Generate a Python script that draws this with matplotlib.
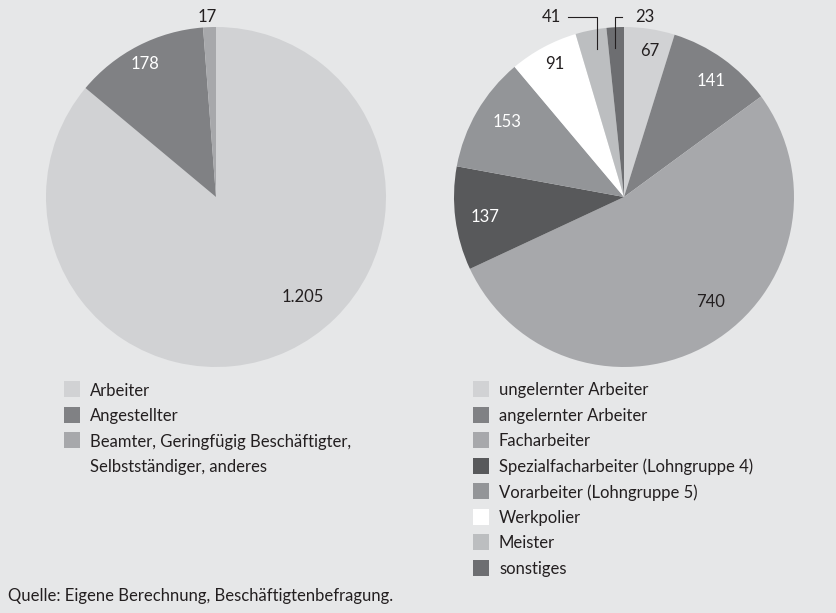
import matplotlib.pyplot as plt
from matplotlib.patches import Rectangle

# data: left pie (Beschaeftigtenstatus)
status_labels = ["Arbeiter", "Angestellter",
                 "Beamter, Geringfügig Beschäftigter,\nSelbstständiger, anderes"]
status_values = [1205, 178, 17]
status_texts = ["1.205", "178", "17"]
status_colors = ["#d1d2d4", "#808184", "#a7a8ab"]

# data: right pie (Qualifikation)
quali_labels = ["ungelernter Arbeiter", "angelernter Arbeiter", "Facharbeiter",
                "Spezialfacharbeiter (Lohngruppe 4)", "Vorarbeiter (Lohngruppe 5)",
                "Werkpolier", "Meister", "sonstiges"]
quali_values = [67, 141, 740, 137, 153, 91, 41, 23]
quali_texts = ["67", "141", "740", "137", "153", "91", "41", "23"]
quali_colors = ["#d1d2d4", "#808184", "#a7a8ab", "#58595b",
                "#939598", "#ffffff", "#bcbec0", "#6d6e71"]

BG = "#e6e7e8"
DARK = "#231f20"

plt.rcParams['font.family'] = ['Lato', 'DejaVu Sans']
FS = 12

fig = plt.figure(figsize=(8.36, 6.13), dpi=100, facecolor=BG)
W, H = 836, 613


def pie_axes(cx, cy, r=170):
    ax = fig.add_axes([(cx - r) / W, (H - cy - r) / H, 2 * r / W, 2 * r / H])
    return ax


def finish(ax):
    ax.set_xlim(-1, 1)
    ax.set_ylim(-1, 1)
    ax.set_aspect("equal")
    ax.axis("off")


# left pie
ax1 = pie_axes(216, 197)
ax1.pie(status_values, colors=status_colors, startangle=90, counterclock=False,
        radius=1, wedgeprops=dict(linewidth=0))
finish(ax1)
left_pos = [(0.51, -0.59), (-0.42, 0.78), (-0.05, 1.06)]
left_col = [DARK, "white", DARK]
for t, (x, y), c in zip(status_texts, left_pos, left_col):
    ax1.text(x, y, t, ha="center", va="center", fontsize=FS, color=c)

# right pie
ax2 = pie_axes(624, 197)
ax2.pie(quali_values, colors=quali_colors, startangle=90, counterclock=False,
        radius=1, wedgeprops=dict(linewidth=0))
finish(ax2)
right_pos = [(0.15, 0.86), (0.51, 0.68), (0.51, -0.62), (-0.82, -0.12),
             (-0.69, 0.44), (-0.41, 0.78), (-0.43, 1.06), (0.12, 1.06)]
right_col = [DARK, "white", DARK, "white", "white", DARK, DARK, DARK]
for t, (x, y), c in zip(quali_texts, right_pos, right_col):
    ax2.text(x, y, t, ha="center", va="center", fontsize=FS, color=c)
# leader lines for the small slices
ax2.plot([-0.33, -0.16, -0.16], [1.06, 1.06, 0.87], color=DARK, lw=0.8, clip_on=False)
ax2.plot([-0.012, -0.053, -0.053], [1.06, 1.06, 0.876], color=DARK, lw=0.8, clip_on=False)


def legend(x0, y0, labels, colors, step=25.5):
    row = 0
    for lab, col in zip(labels, colors):
        y = y0 + row * step
        fig.patches.append(Rectangle((x0 / W, 1 - (y + 8) / H), 16 / W, 16 / H,
                                     transform=fig.transFigure, facecolor=col,
                                     edgecolor="none"))
        for k, line in enumerate(lab.split("\n")):
            fig.text((x0 + 26) / W, 1 - (y + k * step) / H, line, ha="left",
                     va="center_baseline", fontsize=FS, color=DARK,
                     transform=fig.transFigure)
        row += lab.count("\n") + 1


legend(64, 389, status_labels, status_colors)
legend(473, 389, quali_labels, quali_colors)

fig.text(8 / W, 1 - 595 / H, "Quelle: Eigene Berechnung, Beschäftigtenbefragung.",
         ha="left", va="center_baseline", fontsize=FS, color=DARK)

fig.savefig("out.png", dpi=100, facecolor=BG)
